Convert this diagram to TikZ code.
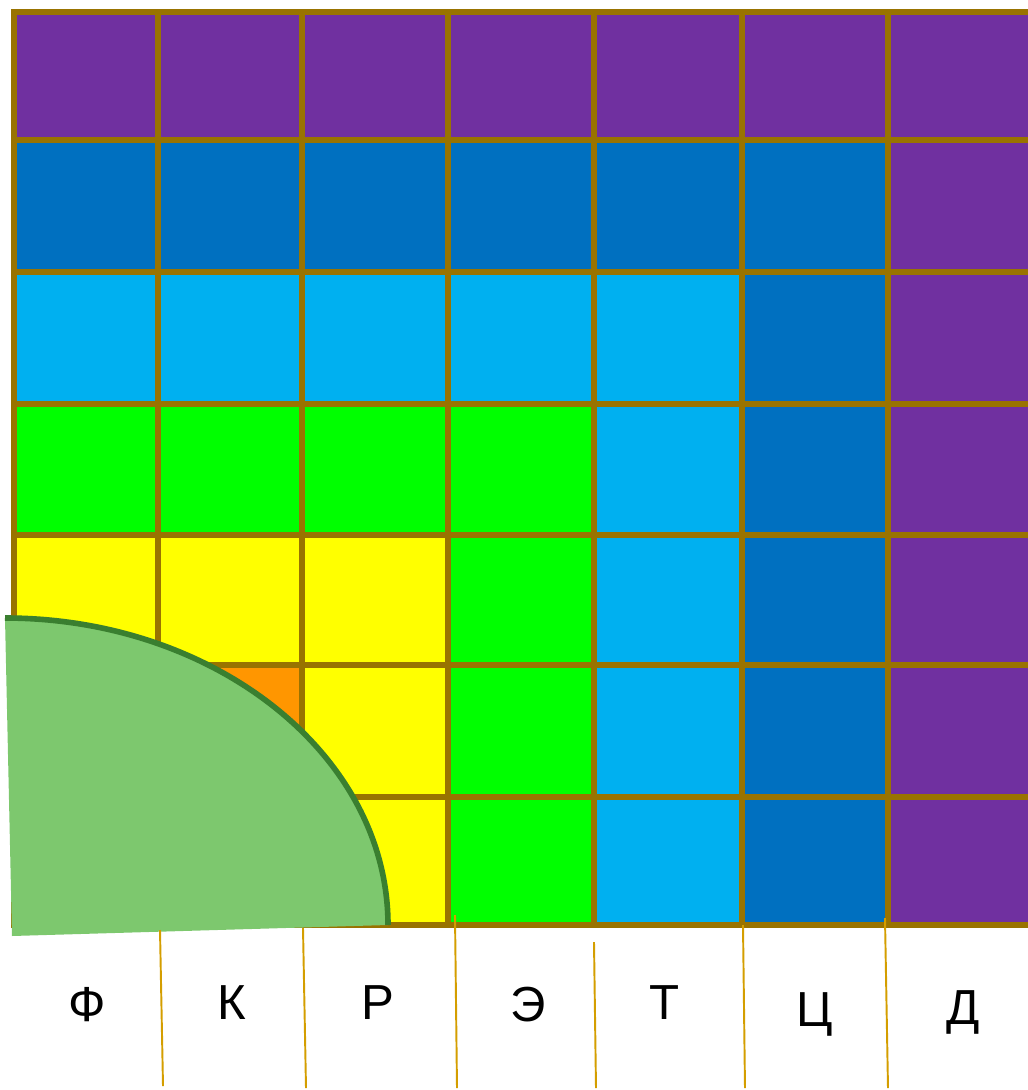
\documentclass[tikz,border=0pt]{standalone}
\usepackage{fontspec}
\setmainfont{Liberation Sans}
\definecolor{c0}{HTML}{FF0000}
\definecolor{c1}{HTML}{FF9600}
\definecolor{c2}{HTML}{FFFF00}
\definecolor{c3}{HTML}{00FF00}
\definecolor{c4}{HTML}{00B0F0}
\definecolor{c5}{HTML}{0070C0}
\definecolor{c6}{HTML}{7030A0}
\definecolor{gridc}{HTML}{997300}
\definecolor{tickc}{HTML}{D49E00}
\definecolor{gfill}{HTML}{7DC86E}
\definecolor{gline}{HTML}{3A7F30}
\tikzset{
  cellbox/.style={draw=gridc, line width=3.8pt},
  tickline/.style={draw=tickc, line width=1.1pt},
  letter/.style={font=\fontsize{28}{34}\selectfont, text=black, inner sep=0pt},
}
\begin{document}
\begin{tikzpicture}[x=0.02cm,y=-0.02cm]
\useasboundingbox (0,0) rectangle (1028,1090);
\begin{scope}
\clip (0,0) rectangle (1028,1090);
\def\xs{{14,158,302,448,594,742,888,1045}}
\def\ys{{12,140,272,404,535,665,797,925}}
\foreach \i in {0,...,6} {
  \foreach \j in {0,...,6} {
    \pgfmathsetmacro\xa{\xs[\i]}
    \pgfmathsetmacro\xb{\xs[\i+1]}
    \pgfmathsetmacro\ya{\ys[\j]}
    \pgfmathsetmacro\yb{\ys[\j+1]}
    \pgfmathtruncatemacro\k{max(\i,6-\j)}
    \filldraw[cellbox, fill=c\k] (\xa,\ya) rectangle (\xb,\yb);
  }
}
\end{scope}
% green quarter shape
\fill[gfill] (5,618) .. controls (215,618) and (388,755) .. (388,925) -- (12,936) -- cycle;
\draw[gline, line width=3.2pt] (5,618) .. controls (215,618) and (388,755) .. (388,925);
% ticks below grid
\draw[tickline] (160,930) -- (163,1086);
\draw[tickline] (303,928) -- (306,1088);
\draw[tickline] (455,915) -- (457,1088);
\draw[tickline] (594,942) -- (596,1088);
\draw[tickline] (743,925) -- (745,1088);
\draw[tickline] (885,918) -- (888,1088);
% labels
\node[letter] (lF) at (87,1005) {Ф};
\node[letter] (lK) at (232,1003) {К};
\node[letter] (lR) at (378,1003) {Р};
\node[letter] (lE) at (528,1005) {Э};
\node[letter] (lT) at (665,1003) {Т};
\node[letter] (lC) at (815,1014) {Ц};
\node[letter] (lD) at (963,1012) {Д};
\end{tikzpicture}
\end{document}
